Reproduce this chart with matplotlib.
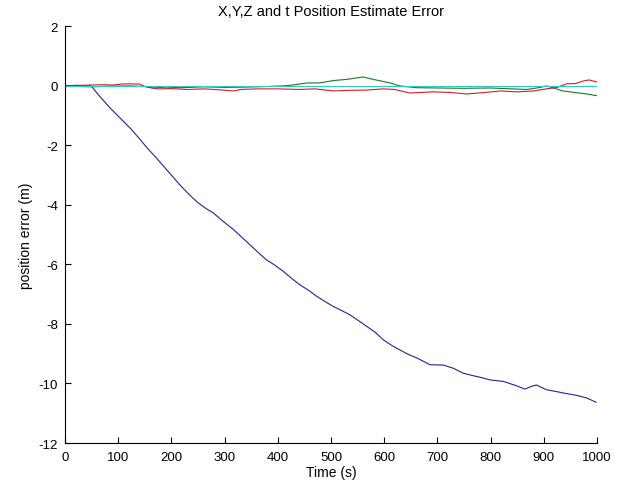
import matplotlib
matplotlib.use("Agg")
import matplotlib.pyplot as plt

# ---------------- data ----------------
# X error (blue)
x_t = [0, 20, 40, 49, 65, 84, 100, 124, 140, 155, 171, 193, 218, 235, 250,
       265, 278, 297, 316, 330, 347, 362, 378, 394, 410, 426, 441, 457, 473,
       488, 504, 520, 535, 551, 567, 583, 598, 614, 629, 645, 661, 686, 711,
       730, 748, 765, 780, 799, 824, 849, 864, 876, 886, 905, 920, 937, 962,
       981, 998]
x_err = [0.0, 0.02, 0.0, 0.0, -0.35, -0.73, -1.02, -1.45, -1.78, -2.10, -2.41,
         -2.86, -3.37, -3.68, -3.93, -4.12, -4.26, -4.55, -4.82, -5.05, -5.33,
         -5.58, -5.84, -6.02, -6.23, -6.47, -6.68, -6.86, -7.07, -7.24, -7.41,
         -7.55, -7.69, -7.88, -8.08, -8.28, -8.53, -8.72, -8.87, -9.02, -9.14,
         -9.37, -9.38, -9.49, -9.65, -9.73, -9.79, -9.88, -9.93, -10.08,
         -10.19, -10.10, -10.05, -10.21, -10.26, -10.32, -10.40, -10.49, -10.63]

# Y error (green)
y_t = [0, 20, 50, 80, 120, 150, 165, 190, 215, 235, 260, 300, 340, 380, 410,
       428, 454, 479, 504, 530, 560, 579, 611, 629, 660, 700, 750, 800, 840,
       868, 890, 905, 920, 936, 962, 980, 1000]
y_err = [0.0, -0.02, -0.03, -0.01, 0.0, -0.02, -0.07, -0.04, -0.06, -0.05,
         -0.03, -0.05, -0.04, -0.02, 0.0, 0.03, 0.10, 0.10, 0.18, 0.22, 0.30,
         0.22, 0.10, 0.0, -0.06, -0.07, -0.08, -0.07, -0.10, -0.12, -0.06, 0.0,
         -0.08, -0.17, -0.23, -0.27, -0.33]

# Z error (red)
z_t = [0, 30, 50, 70, 90, 105, 120, 140, 150, 160, 175, 200, 230, 260, 290,
       316, 330, 360, 400, 440, 470, 504, 530, 567, 598, 620, 648, 690, 723,
       755, 790, 818, 850, 880, 905, 925, 943, 960, 975, 985, 1000]
z_err = [0.0, 0.02, 0.03, 0.04, 0.03, 0.06, 0.07, 0.06, -0.02, -0.06, -0.10,
         -0.09, -0.12, -0.10, -0.13, -0.17, -0.12, -0.10, -0.10, -0.12, -0.10,
         -0.17, -0.15, -0.14, -0.10, -0.12, -0.24, -0.20, -0.22, -0.27, -0.22,
         -0.17, -0.20, -0.17, -0.10, -0.05, 0.07, 0.08, 0.17, 0.20, 0.13]

# t error (cyan)
c_t = [0, 1000]
c_err = [0.0, 0.0]

x_ticks = [0, 100, 200, 300, 400, 500, 600, 700, 800, 900, 1000]
y_ticks = [2, 0, -2, -4, -6, -8, -10, -12]

plt.rcParams['font.family'] = ['Liberation Sans', 'DejaVu Sans']
plt.rcParams['axes.unicode_minus'] = False   # matlab uses a plain hyphen

fig = plt.figure(figsize=(6.2, 4.89), dpi=100)
ax = fig.add_axes([0.105, 0.092, 0.858, 0.852])

ax.plot(x_t, x_err, color='#22229a', lw=0.8)
ax.plot(y_t, y_err, color='#1a7a1a', lw=0.8)
ax.plot(z_t, z_err, color='#d02020', lw=0.8)
ax.plot(c_t, c_err, color='#30c8c8', lw=0.8)

ax.set_xlim(0, 1000)
ax.set_ylim(-12, 2)
ax.set_xticks(x_ticks)
ax.set_yticks(y_ticks)

# box off, ticks inside
ax.spines['top'].set_visible(False)
ax.spines['right'].set_visible(False)
for s in ['left', 'bottom']:
    ax.spines[s].set_linewidth(0.8)
ax.tick_params(direction='in', length=4.5, width=0.8, labelsize=9.5)
ax.tick_params(axis='x', pad=6)
ax.tick_params(axis='y', pad=5)

ax.set_title("X,Y,Z and t Position Estimate Error", fontsize=10.5, pad=8)
ax.set_xlabel("Time (s)", fontsize=10, labelpad=1)
ax.set_ylabel("position error (m)", fontsize=10, labelpad=4)

fig.savefig("out.png", dpi=100)
